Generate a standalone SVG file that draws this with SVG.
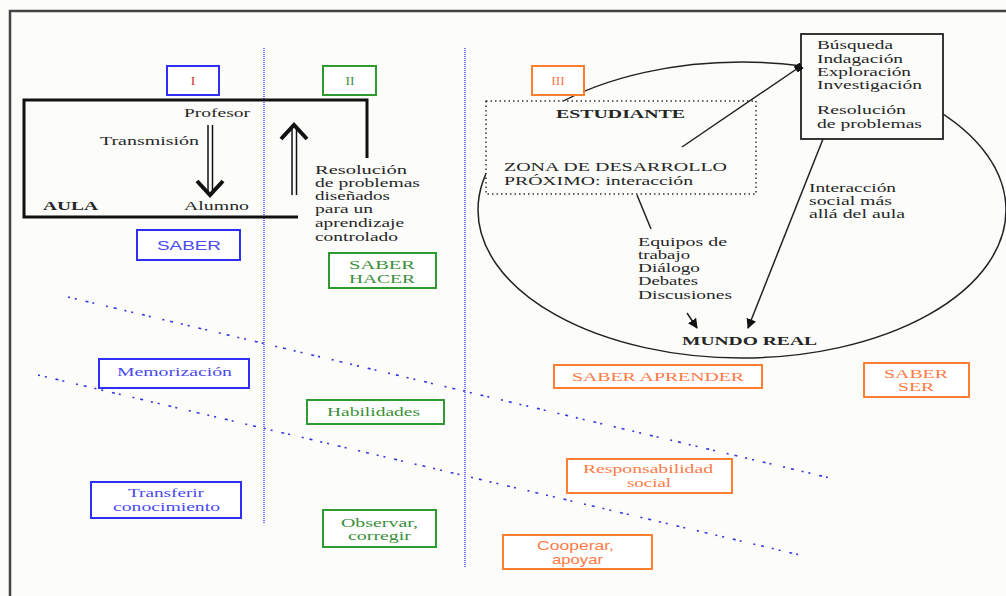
<svg xmlns="http://www.w3.org/2000/svg" width="1006" height="596" viewBox="0 0 1006 596">
  <defs>
    <style>
      .t { font-family: "Liberation Serif", "Times New Roman", serif; font-size: 13.5px; fill: #262626; }
      .b { font-weight: bold; }
      .s { font-family: "Liberation Sans", Arial, sans-serif; }
      .blueBox { fill: #ffffff; stroke: #2f2ff5; stroke-width: 2; }
      .greenBox { fill: #ffffff; stroke: #2f9a2f; stroke-width: 2; }
      .orangeBox { fill: #ffffff; stroke: #ff7f2e; stroke-width: 2; }
      .blueTxt { fill: #4a4af0; }
      .greenTxt { fill: #3a8f3a; }
      .orangeTxt { fill: #ff7a45; }
      .vdiv { stroke: #3b3bff; stroke-width: 1.4; stroke-dasharray: 1 1; fill: none; }
      .diag { stroke: #3535e0; stroke-width: 1.6; fill: none; stroke-dasharray: 2 5 2 9 3 4 2 12 2 6 3 8; }
      .conn { stroke: #222; stroke-width: 1.5; fill: none; }
    </style>
    <marker id="tri" viewBox="0 0 10 10" refX="9" refY="5" markerWidth="10" markerHeight="10" markerUnits="userSpaceOnUse" orient="auto">
      <path d="M0,0 L10,5 L0,10 z" fill="#111"/>
    </marker>
    <marker id="blob" viewBox="0 0 10 10" refX="9" refY="5" markerWidth="7" markerHeight="7" markerUnits="userSpaceOnUse" orient="auto">
      <rect x="0" y="0" width="10" height="10" fill="#111"/>
    </marker>
  </defs>

  <!-- page background and frame -->
  <rect x="0" y="0" width="1006" height="596" fill="#fcfdfb"/>
  <path d="M10 596 L10 11 L1006 11" fill="none" stroke="#444" stroke-width="2.5"/>

  <!-- column dividers -->
  <g id="dividers">
    <line class="vdiv" x1="264" y1="48" x2="264" y2="523"/>
    <line class="vdiv" x1="465" y1="48" x2="465" y2="568"/>
  </g>

  <!-- diagonal level separators -->
  <g id="levels">
    <line class="diag" x1="68" y1="297" x2="830" y2="478"/>
    <line class="diag" x1="38" y1="375" x2="800" y2="555"/>
  </g>

  <!-- real world ellipse -->
  <g id="mundo-real-ellipse">
    <ellipse cx="742" cy="210" rx="264" ry="148" fill="none" stroke="#222" stroke-width="1.5"/>
  </g>

  <!-- classroom (AULA) -->
  <g id="aula">
    <path d="M298 217 L24 217 L24 100 L367 100 L367 158" fill="none" stroke="#111" stroke-width="3"/>
    <text class="t" x="184" y="117" textLength="66" lengthAdjust="spacingAndGlyphs">Profesor</text>
    <text class="t" x="100" y="145" textLength="99" lengthAdjust="spacingAndGlyphs">Transmisión</text>
    <text class="t b" x="43" y="210" textLength="55" lengthAdjust="spacingAndGlyphs">AULA</text>
    <text class="t" x="184" y="210" textLength="65" lengthAdjust="spacingAndGlyphs">Alumno</text>
    <!-- downward double arrow -->
    <line x1="208" y1="125" x2="208" y2="192" stroke="#111" stroke-width="1.5"/>
    <line x1="212.5" y1="125" x2="212.5" y2="192" stroke="#111" stroke-width="1.5"/>
    <polyline points="197,181 210,195 223,181" fill="none" stroke="#111" stroke-width="4"/>
  </g>

  <!-- column I -->
  <g id="col-1">
    <rect class="blueBox" x="167" y="66" width="52" height="29"/>
    <text class="t" x="193" y="85" text-anchor="middle" style="fill:#d03030">I</text>
  </g>
  <g id="saber">
    <rect class="blueBox" x="137" y="230" width="103" height="30"/>
    <text class="t s blueTxt" x="157" y="250" textLength="64" lengthAdjust="spacingAndGlyphs">SABER</text>
  </g>
  <g id="memorizacion">
    <rect class="blueBox" x="99" y="359" width="150" height="29"/>
    <text class="t blueTxt" x="117" y="376" textLength="115" lengthAdjust="spacingAndGlyphs" font-size="14">Memorización</text>
  </g>
  <g id="transferir">
    <rect class="blueBox" x="91" y="482" width="150" height="36"/>
    <text class="t blueTxt" x="128" y="497" textLength="76" lengthAdjust="spacingAndGlyphs" font-size="14">Transferir</text>
    <text class="t blueTxt" x="113" y="511" textLength="107" lengthAdjust="spacingAndGlyphs" font-size="14">conocimiento</text>
  </g>

  <!-- column II -->
  <g id="col-2">
    <rect class="greenBox" x="323" y="66" width="53" height="29"/>
    <text class="t greenTxt" x="350" y="85" text-anchor="middle">II</text>
  </g>
  <g id="resolucion-controlada">
    <line x1="292" y1="195" x2="292" y2="127" stroke="#111" stroke-width="1.5"/>
    <line x1="296.5" y1="195" x2="296.5" y2="127" stroke="#111" stroke-width="1.5"/>
    <polyline points="281,139 294,125 307,139" fill="none" stroke="#111" stroke-width="4"/>
    <text class="t" x="315" y="174" textLength="92" lengthAdjust="spacingAndGlyphs">Resolución</text>
    <text class="t" x="315" y="187" textLength="105" lengthAdjust="spacingAndGlyphs">de problemas</text>
    <text class="t" x="315" y="200" textLength="75" lengthAdjust="spacingAndGlyphs">diseñados</text>
    <text class="t" x="315" y="213" textLength="58" lengthAdjust="spacingAndGlyphs">para un</text>
    <text class="t" x="315" y="227" textLength="89" lengthAdjust="spacingAndGlyphs">aprendizaje</text>
    <text class="t" x="315" y="241" textLength="83" lengthAdjust="spacingAndGlyphs">controlado</text>
  </g>
  <g id="saber-hacer">
    <rect class="greenBox" x="329" y="253" width="107" height="35"/>
    <text class="t greenTxt" x="349" y="269" textLength="66" lengthAdjust="spacingAndGlyphs" font-size="14">SABER</text>
    <text class="t greenTxt" x="349" y="283" textLength="66" lengthAdjust="spacingAndGlyphs" font-size="14">HACER</text>
  </g>
  <g id="habilidades">
    <rect class="greenBox" x="307" y="400" width="137" height="24"/>
    <text class="t greenTxt" x="327" y="416" textLength="93" lengthAdjust="spacingAndGlyphs">Habilidades</text>
  </g>
  <g id="observar">
    <rect class="greenBox" x="323" y="510" width="113" height="37"/>
    <text class="t greenTxt" x="341" y="527" textLength="77" lengthAdjust="spacingAndGlyphs" font-size="14">Observar,</text>
    <text class="t greenTxt" x="348" y="540" textLength="63" lengthAdjust="spacingAndGlyphs" font-size="14">corregir</text>
  </g>

  <!-- column III -->
  <g id="col-3">
    <rect class="orangeBox" x="532" y="66" width="52" height="29"/>
    <text class="t orangeTxt" x="558" y="85" text-anchor="middle">III</text>
  </g>
  <g id="estudiante">
    <rect x="486" y="101" width="270" height="93" fill="#fcfdfb" stroke="#333" stroke-width="1.5" stroke-dasharray="1.5 3"/>
    <text class="t b" x="556" y="118" textLength="129" lengthAdjust="spacingAndGlyphs">ESTUDIANTE</text>
    <text class="t" x="504" y="171" textLength="223" lengthAdjust="spacingAndGlyphs" font-size="14.5">ZONA DE DESARROLLO</text>
    <text class="t" x="504" y="185" textLength="189" lengthAdjust="spacingAndGlyphs" font-size="14.5">PRÓXIMO: interacción</text>
  </g>
  <g id="busqueda">
    <rect x="801" y="34" width="142" height="105" fill="#fcfdfb" stroke="#222" stroke-width="1.8"/>
    <text class="t" x="817" y="49" textLength="76" lengthAdjust="spacingAndGlyphs">Búsqueda</text>
    <text class="t" x="817" y="63" textLength="86" lengthAdjust="spacingAndGlyphs">Indagación</text>
    <text class="t" x="817" y="76" textLength="94" lengthAdjust="spacingAndGlyphs">Exploración</text>
    <text class="t" x="817" y="89" textLength="105" lengthAdjust="spacingAndGlyphs">Investigación</text>
    <text class="t" x="817" y="114" textLength="89" lengthAdjust="spacingAndGlyphs">Resolución</text>
    <text class="t" x="817" y="128" textLength="105" lengthAdjust="spacingAndGlyphs">de problemas</text>
  </g>
  <g id="interaccion-social">
    <text class="t" x="809" y="192" textLength="87" lengthAdjust="spacingAndGlyphs" font-size="12">Interacción</text>
    <text class="t" x="809" y="205" textLength="83" lengthAdjust="spacingAndGlyphs" font-size="12">social más</text>
    <text class="t" x="809" y="218" textLength="96" lengthAdjust="spacingAndGlyphs" font-size="12">allá del aula</text>
  </g>
  <g id="equipos">
    <text class="t" x="638" y="246" textLength="89" lengthAdjust="spacingAndGlyphs">Equipos de</text>
    <text class="t" x="638" y="259" textLength="52" lengthAdjust="spacingAndGlyphs">trabajo</text>
    <text class="t" x="638" y="272" textLength="62" lengthAdjust="spacingAndGlyphs">Diálogo</text>
    <text class="t" x="638" y="285" textLength="60" lengthAdjust="spacingAndGlyphs">Debates</text>
    <text class="t" x="638" y="299" textLength="94" lengthAdjust="spacingAndGlyphs">Discusiones</text>
  </g>
  <g id="mundo-real">
    <text class="t b" x="682" y="345" textLength="135" lengthAdjust="spacingAndGlyphs">MUNDO REAL</text>
  </g>
  <g id="saber-aprender">
    <rect class="orangeBox" x="554" y="365" width="208" height="23"/>
    <text class="t orangeTxt" x="572" y="381" textLength="172" lengthAdjust="spacingAndGlyphs" font-size="14">SABER APRENDER</text>
  </g>
  <g id="saber-ser">
    <rect class="orangeBox" x="864" y="363" width="105" height="34"/>
    <text class="t orangeTxt" x="884" y="378" textLength="64" lengthAdjust="spacingAndGlyphs" font-size="14">SABER</text>
    <text class="t orangeTxt" x="898" y="391" textLength="36" lengthAdjust="spacingAndGlyphs" font-size="14">SER</text>
  </g>
  <g id="responsabilidad">
    <rect class="orangeBox" x="567" y="459" width="165" height="34"/>
    <text class="t orangeTxt" x="583" y="473" textLength="130" lengthAdjust="spacingAndGlyphs" font-size="14">Responsabilidad</text>
    <text class="t orangeTxt" x="627" y="487" textLength="44" lengthAdjust="spacingAndGlyphs" font-size="14">social</text>
  </g>
  <g id="cooperar">
    <rect class="orangeBox" x="503" y="535" width="149" height="34"/>
    <text class="t s orangeTxt" x="537" y="550" textLength="77" lengthAdjust="spacingAndGlyphs">Cooperar,</text>
    <text class="t s orangeTxt" x="552" y="564" textLength="51" lengthAdjust="spacingAndGlyphs">apoyar</text>
  </g>

  <!-- connectors -->
  <g id="connectors">
    <line class="conn" x1="682" y1="147" x2="801" y2="66" marker-end="url(#blob)"/>
    <line class="conn" x1="823" y1="139" x2="748" y2="328" marker-end="url(#tri)"/>
    <line class="conn" x1="637" y1="195" x2="651" y2="229"/>
    <line class="conn" x1="687" y1="313" x2="697" y2="328" marker-end="url(#tri)"/>
  </g>
</svg>
